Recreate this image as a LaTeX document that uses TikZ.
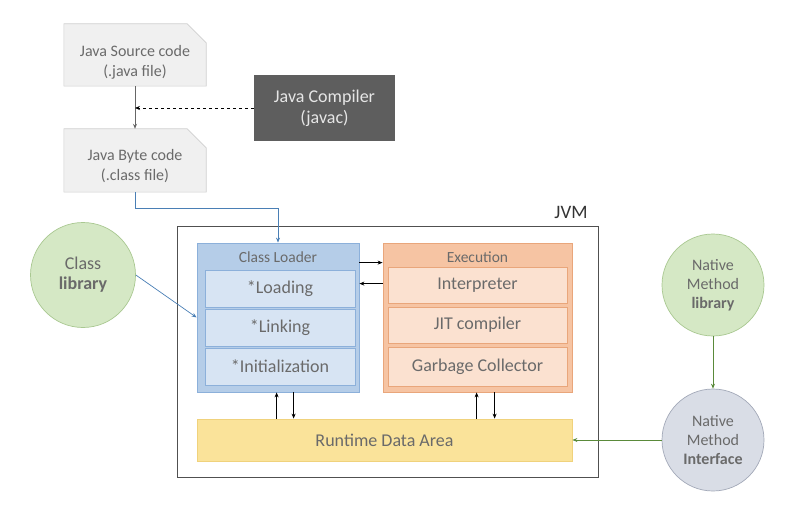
\documentclass[tikz,border=0pt]{standalone}
\usepackage{fontspec}
\setmainfont{Carlito}
\usetikzlibrary{arrows.meta,calc,backgrounds}
\definecolor{docfill}{HTML}{F0F0F0}
\definecolor{docborder}{HTML}{CFCFCF}
\definecolor{txt}{HTML}{6A6A6A}
\definecolor{compfill}{HTML}{5E5E5E}
\definecolor{comptxt}{HTML}{E6E6E6}
\definecolor{jvmborder}{HTML}{505050}
\definecolor{clout}{HTML}{B5CDE8}
\definecolor{clin}{HTML}{D7E4F3}
\definecolor{clborder}{HTML}{8CB0DA}
\definecolor{exout}{HTML}{F6C4A3}
\definecolor{exin}{HTML}{FBE1D0}
\definecolor{exborder}{HTML}{E9A67B}
\definecolor{rdafill}{HTML}{FAE39A}
\definecolor{rdaborder}{HTML}{F0D27C}
\definecolor{libfill}{HTML}{D5E8C5}
\definecolor{libborder}{HTML}{A9C891}
\definecolor{nmifill}{HTML}{D9DDE6}
\definecolor{nmiborder}{HTML}{A3A9B8}
\definecolor{bluearrow}{HTML}{4A7FB5}
\definecolor{greenarrow}{HTML}{5A8A3A}
\tikzset{
  fs/.style 2 args={font=\fontsize{#1}{#2}\selectfont},
  doc/.style={draw=none, minimum width=142, minimum height=62},
  doctext/.style={align=center, text=txt, fs={16}{20}},
  docshape/.style={fill=docfill, draw=docborder, line width=0.6pt},
  comp/.style={fill=compfill, draw=none, minimum width=141, minimum height=66, align=center, text=comptxt, fs={18}{21}},
  outerbox/.style={line width=0.8pt},
  innerbox/.style={line width=0.8pt, text=txt, fs={18}{20}},
  title/.style={text=txt, fs={15.5}{17}},
  circ/.style={circle, line width=0.7pt, align=center, text=txt, fs={18}{20}, inner sep=0pt},
  arr/.style={-{Stealth[length=5pt,width=4pt]}, line width=0.7pt},
}
\begin{document}
\begin{tikzpicture}[x=1pt,y=-1pt]
\useasboundingbox (0,0) rectangle (787,505);
% documents
\node[doc] (src) at (135,55) {};
\node[doc, minimum height=63] (byte) at (135,160.5) {};
\path[docshape] (src.south west) -- (src.north west) -- ([xshift=-19pt]src.north east) -- ([yshift=-19pt]src.north east) -- (src.south east) -- cycle;
\path[docshape] (byte.south west) -- (byte.north west) -- ([xshift=-19pt]byte.north east) -- ([yshift=-19pt]byte.north east) -- (byte.south east) -- cycle;
\node[doctext] (srct) at (135,62) {Java Source code\\(.java file)};
\node[doctext] (bytet) at (135,166) {Java Byte code\\(.class file)};
\node[comp] (comp) at (324.5,108) {Java Compiler\\(javac)};
% JVM
\node[fs={19}{20}, text=black!80] (jvmlbl) at (571,212) {JVM};
\node[draw=jvmborder, outerbox, minimum width=421, minimum height=251] (jvm) at (387.5,351.5) {};
% class loader
\node[fill=clout, draw=clborder, outerbox, minimum width=162, minimum height=149] (clo) at (278,317.5) {};
\node[title] (cltitle) at (278,257) {Class Loader};
\node[fill=clin, draw=clborder, innerbox, minimum width=150, minimum height=37] (load) at (280,288.5) {*Loading};
\node[fill=clin, draw=clborder, innerbox, minimum width=150, minimum height=37] (link) at (280,327.5) {*Linking};
\node[fill=clin, draw=clborder, innerbox, minimum width=150, minimum height=37] (init) at (280,366.5) {*Initialization};
% execution
\node[fill=exout, draw=exborder, outerbox, minimum width=189, minimum height=149] (exo) at (477.5,317.5) {};
\node[title] (extitle) at (477.5,257) {Execution};
\node[fill=exin, draw=exborder, innerbox, minimum width=179, minimum height=36] (interp) at (477.5,285) {Interpreter};
\node[fill=exin, draw=exborder, innerbox, minimum width=179, minimum height=36] (jit) at (477.5,325) {JIT compiler};
\node[fill=exin, draw=exborder, innerbox, minimum width=179, minimum height=39] (gc) at (477.5,366.5) {Garbage Collector};
% runtime data area
\node[fill=rdafill, draw=rdaborder, outerbox, minimum width=375, minimum height=42, text=txt, fs={18}{20}] (rda) at (384.5,440) {Runtime Data Area};
% circles
\node[circ, fill=libfill, draw=libborder, minimum size=105] (cl) at (83,275) {Class\\\textbf{library}};
\node[circ, fill=libfill, draw=libborder, minimum size=102, fs={16}{19}] (nml) at (713,285) {Native\\Method\\\textbf{library}};
\node[circ, fill=nmifill, draw=nmiborder, minimum size=102, fs={16}{19}] (nmi) at (713,440) {Native\\Method\\\textbf{Interface}};
% connectors
\draw[arr, black!60] (src.south) -- (byte.north);
\draw[arr, dashed, black] (comp.west) -- (comp.west -| src.south);
\draw[arr, bluearrow] (byte.south) -- ++(0,16) -| (clo.north);
\draw[arr, bluearrow] (cl.east) -- (clo.west);
\draw[arr, black] ([yshift=-20pt]clo.north east) -- ([yshift=-20pt]exo.north west);
\draw[arr, black] ([yshift=-41pt]exo.north west) -- ([yshift=-41pt]clo.north east);
\draw[arr, black] ([xshift=80pt]rda.north west) -- ([xshift=80pt]rda.north west |- clo.south);
\draw[arr, black] ([xshift=97pt]rda.north west |- clo.south) -- ([xshift=97pt]rda.north west);
\draw[arr, black] ([xshift=280pt]rda.north west) -- ([xshift=280pt]rda.north west |- exo.south);
\draw[arr, black] ([xshift=298pt]rda.north west |- exo.south) -- ([xshift=298pt]rda.north west);
\draw[arr, greenarrow] (nml.south) -- (nmi.north);
\draw[arr, greenarrow] (nmi.west) -- (rda.east);
\end{tikzpicture}
\end{document}
